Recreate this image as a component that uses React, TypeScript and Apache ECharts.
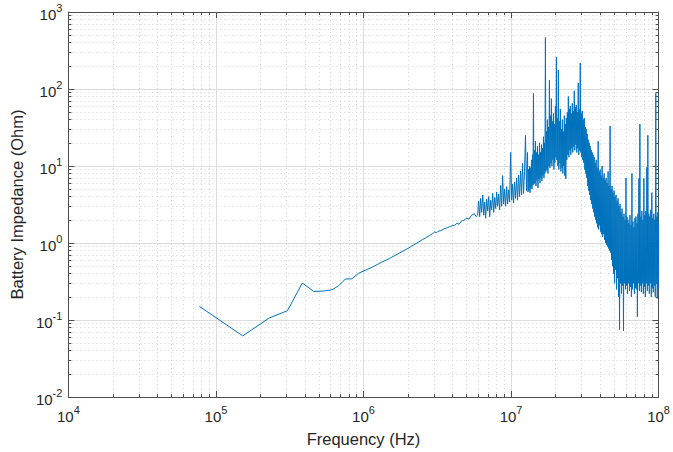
import React, { useEffect, useRef } from "react";
import * as echarts from "echarts";

// Low-frequency, smooth part of the sweep (MHz, Ohm)
const smoothFreqMHz = [0.0774, 0.152, 0.229, 0.305, 0.385, 0.46, 0.538, 0.613, 0.679, 0.753, 0.835, 0.925, 1.14, 1.26, 1.5, 2.0, 2.5, 2.8, 2.95, 3.04, 3.12, 3.2, 3.35, 3.5, 3.7, 3.9, 4.14, 4.3, 4.45, 4.6, 4.8, 5.0, 5.2, 5.4, 5.65, 5.8];
const smoothZ = [0.150, 0.0622, 0.106, 0.132, 0.302, 0.235, 0.238, 0.247, 0.279, 0.340, 0.343, 0.404, 0.483, 0.535, 0.63, 0.85, 1.10, 1.25, 1.33, 1.40, 1.35, 1.42, 1.45, 1.52, 1.58, 1.65, 1.70, 1.80, 1.75, 1.92, 1.98, 2.10, 2.05, 2.30, 2.40, 2.20];

// Noisy part, 6 - 13 MHz (MHz, Ohm)
const midFreqMHz = [5.94, 6.03, 6.13, 6.22, 6.32, 6.43, 6.53, 6.63, 6.73, 6.84, 6.95, 7.06, 7.17, 7.28, 7.39, 7.51, 7.63, 7.75, 7.87, 7.99, 8.11, 8.24, 8.37, 8.50, 8.64, 8.77, 8.91, 9.05, 9.19, 9.34, 9.48, 9.63, 9.78, 9.94, 10.1, 10.24, 10.4, 10.57, 10.73, 10.9, 11.07, 11.25, 11.42, 11.6, 11.78, 11.96, 12.15, 12.34, 12.53, 12.73];
const midZ = [2.3, 3.5, 2.2, 3.8, 2.5, 4.2, 2.3, 3.4, 2.1, 3.7, 2.6, 4.0, 2.2, 3.6, 2.7, 4.4, 2.5, 3.9, 2.8, 4.6, 3.0, 4.3, 2.7, 5.6, 3.0, 7.5, 3.2, 5.0, 3.0, 5.4, 3.2, 4.9, 3.4, 15, 3.6, 5.8, 3.3, 6.2, 3.8, 7.0, 3.6, 7.6, 4.0, 8.6, 4.2, 10.8, 4.4, 8.5, 25, 4.8];

// Resonance band, 13 - 100 MHz (MHz, Ohm)
const highFreqMHz = [12.93, 13.03, 13.13, 13.23, 13.34, 13.44, 13.55, 13.65, 13.76, 13.86, 13.97, 14.08, 14.19, 14.30, 14.41, 14.52, 14.64, 14.75, 14.87, 14.98, 15.1, 15.22, 15.34, 15.46, 15.58, 15.70, 15.82, 15.94, 16.07, 16.19, 16.32, 16.45, 16.58, 16.71, 16.84, 16.97, 17.1, 17.23, 17.37, 17.50, 17.64, 17.78, 17.92, 18.06, 18.2, 18.34, 18.48, 18.62, 18.77, 18.92, 19.07, 19.22, 19.37, 19.52, 19.67, 19.82, 19.98, 20.13, 20.29, 20.44, 20.6, 20.76, 20.93, 21.09, 21.26, 21.42, 21.59, 21.76, 21.93, 22.10, 22.27, 22.44, 22.62, 22.79, 22.97, 23.15, 23.33, 23.51, 23.7, 23.88, 24.07, 24.26, 24.45, 24.64, 24.83, 25.02, 25.22, 25.41, 25.61, 25.81, 26.01, 26.21, 26.42, 26.62, 26.83, 27.04, 27.25, 27.46, 27.68, 27.89, 28.11, 28.33, 28.55, 28.77, 29.0, 29.22, 29.45, 29.68, 29.91, 30.14, 30.38, 30.61, 30.85, 31.09, 31.34, 31.58, 31.83, 32.08, 32.33, 32.58, 32.83, 33.09, 33.35, 33.61, 33.87, 34.13, 34.4, 34.67, 34.94, 35.21, 35.48, 35.76, 36.04, 36.32, 36.6, 36.88, 37.17, 37.46, 37.75, 38.04, 38.34, 38.64, 38.94, 39.24, 39.55, 39.86, 40.17, 40.48, 40.8, 41.11, 41.43, 41.75, 42.08, 42.41, 42.74, 43.07, 43.4, 43.74, 44.08, 44.42, 44.77, 45.12, 45.47, 45.82, 46.18, 46.54, 46.9, 47.26, 47.63, 48.0, 48.38, 48.75, 49.13, 49.51, 49.9, 50.29, 50.68, 51.07, 51.47, 51.87, 52.28, 52.69, 53.1, 53.51, 53.93, 54.35, 54.77, 55.19, 55.62, 56.05, 56.49, 56.93, 57.38, 57.82, 58.27, 58.72, 59.18, 59.64, 60.1, 60.57, 61.04, 61.52, 62.0, 62.48, 62.97, 63.46, 63.95, 64.45, 64.95, 65.45, 65.96, 66.47, 66.99, 67.51, 68.04, 68.57, 69.1, 69.64, 70.18, 70.73, 71.28, 71.83, 72.39, 72.95, 73.52, 74.09, 74.67, 75.25, 75.84, 76.43, 77.02, 77.62, 78.22, 78.83, 79.45, 80.07, 80.69, 81.32, 81.95, 82.59, 83.23, 83.88, 84.53, 85.19, 85.85, 86.52, 87.19, 87.87, 88.55, 89.24, 89.94, 90.64, 91.34, 92.05, 92.77, 93.49, 94.22, 94.95, 95.69, 96.44, 97.19, 97.94, 98.7, 99.35, 100];
const highZ = [
  15, 4.6, 9.0, 4.8, 10, 4.5, 9.5, 5.2, 12, 5.0,
  14, 5.6, 88, 5.8, 16, 6.0, 21, 5.5, 15, 6.5,
  18, 5.2, 14, 6.8, 20, 6.0, 15, 7.0, 19, 6.4,
  17, 7.5, 24, 7.0, 20, 8.0, 467, 8.5, 28, 9.0,
  40, 8.0, 32, 10, 130, 9.5, 45, 11, 75, 10,
  38, 12, 48, 9.0, 35, 11, 60, 13, 260, 12,
  42, 10, 176, 9.0, 38, 11, 55, 8.5, 30, 9.5,
  40, 8.0, 28, 10, 45, 7.5, 35, 6.8, 42, 12,
  50, 14, 80, 13, 55, 16, 60, 14, 48, 17,
  65, 15, 52, 18, 95, 16, 58, 19, 62, 15,
  50, 17, 120, 14, 55, 16, 218, 15, 48, 13,
  52, 12, 40, 11, 42, 9.0, 32, 8.0, 30, 7.0,
  26, 5.5, 22, 4.8, 20, 4.2, 18, 3.6, 16, 3.2,
  15, 2.8, 14, 2.5, 13, 2.2, 11, 2.0, 12, 1.8,
  9.5, 1.6, 21, 1.5, 8.5, 1.7, 9.0, 1.4, 7.5, 1.3,
  10, 1.2, 7.0, 1.3, 8.0, 1.1, 6.5, 1.0, 7.0, 0.95,
  6.0, 0.9, 8.5, 0.85, 5.5, 0.8, 33, 0.75, 5.0, 0.6,
  5.5, 0.5, 4.5, 0.4, 4.8, 0.3, 4.0, 0.45, 4.2, 0.25,
  3.5, 0.35, 3.8, 0.2, 3.0, 0.075, 3.2, 0.3, 2.5, 0.22,
  2.8, 0.28, 2.2, 0.072, 2.4, 0.3, 2.0, 0.25, 7.0, 0.28,
  2.2, 0.22, 2.0, 0.3, 1.8, 0.24, 2.3, 0.27, 1.7, 0.2,
  8.0, 0.25, 1.9, 0.3, 1.6, 0.22, 2.1, 0.26, 2.2, 0.25,
  1.8, 0.11, 2.4, 0.3, 6.9, 0.24, 35, 0.28, 2.2, 0.23,
  2.6, 0.3, 2.0, 0.22, 6.9, 0.27, 2.3, 0.2, 2.6, 0.3,
  9.6, 0.24, 25, 0.28, 2.4, 0.22, 2.2, 0.3, 2.7, 0.2,
  4.5, 0.26, 2.1, 0.23, 2.4, 0.28, 2.0, 0.2, 88, 0.3,
  2.2, 0.19, 2.5, 0.25, 1.8,
];

const xMin = 1e4;
const xMax = 1e8;
const yMin = 1e-2;
const yMax = 1e3;

const FONT = "'Liberation Sans', Arial, Helvetica, sans-serif";
const TEXT = "#262626";
const AXIS = "#4d4d4d";

export default function App() {
  const ref = useRef<HTMLDivElement>(null);

  useEffect(() => {
    document.body.style.margin = "0";
    const chart = echarts.init(ref.current!, null, { renderer: "svg" });

    const data: number[][] = [];
    const add = (fs: number[], zs: number[]) => {
      const n = Math.min(fs.length, zs.length);
      for (let i = 0; i < n; i++) data.push([fs[i] * 1e6, zs[i]]);
    };
    add(smoothFreqMHz, smoothZ);
    add(midFreqMHz, midZ);
    add(highFreqMHz, highZ);

    const fmt = (v: number) => {
      const e = Math.round(Math.log10(v));
      return `{b|10}{s|${e}}`;
    };
    const rich = {
      b: { fontSize: 15, fontFamily: FONT, color: TEXT, lineHeight: 20, verticalAlign: "bottom" },
      s: { fontSize: 11, fontFamily: FONT, color: TEXT, lineHeight: 8, verticalAlign: "top" },
    };

    const axisLine = { show: true, lineStyle: { color: AXIS, width: 1 } };
    const tick = { show: true, inside: true, length: 6, lineStyle: { color: AXIS } };
    const minorTick = { show: true, splitNumber: 9, length: 3, lineStyle: { color: AXIS } };

    chart.setOption({
      animation: false,
      backgroundColor: "#ffffff",
      grid: { left: 68, right: 11, top: 12, bottom: 55 },
      xAxis: [
        {
          type: "log",
          logBase: 10,
          min: xMin,
          max: xMax,
          interval: 1,
          position: "bottom",
          axisLine,
          axisTick: tick,
          minorTick,
          axisLabel: { formatter: fmt, rich, margin: 7 },
          splitLine: { show: true, lineStyle: { color: "#dcdcdc", width: 1 } },
          minorSplitLine: { show: true, lineStyle: { color: "#d4d4d4", width: 1, type: [1, 3] } },
          name: "Frequency (Hz)",
          nameLocation: "middle",
          nameGap: 33,
          nameTextStyle: { fontSize: 16.5, fontFamily: FONT, color: TEXT },
        },
        {
          type: "log",
          logBase: 10,
          min: xMin,
          max: xMax,
          interval: 1,
          position: "top",
          axisLine,
          axisTick: tick,
          minorTick,
          axisLabel: { show: false },
          splitLine: { show: false },
        },
      ],
      yAxis: [
        {
          type: "log",
          logBase: 10,
          min: yMin,
          max: yMax,
          interval: 1,
          position: "left",
          axisLine,
          axisTick: tick,
          minorTick,
          axisLabel: { formatter: fmt, rich, margin: 6 },
          splitLine: { show: true, lineStyle: { color: "#dcdcdc", width: 1 } },
          minorSplitLine: { show: true, lineStyle: { color: "#d4d4d4", width: 1, type: [1, 3] } },
          name: "Battery Impedance (Ohm)",
          nameLocation: "middle",
          nameGap: 40,
          nameTextStyle: { fontSize: 16.5, fontFamily: FONT, color: TEXT },
        },
        {
          type: "log",
          logBase: 10,
          min: yMin,
          max: yMax,
          interval: 1,
          position: "right",
          axisLine,
          axisTick: tick,
          minorTick,
          axisLabel: { show: false },
          splitLine: { show: false },
        },
      ],
      series: [
        {
          type: "line",
          xAxisIndex: 0,
          yAxisIndex: 0,
          data,
          showSymbol: false,
          symbol: "none",
          clip: true,
          lineStyle: { color: "#0072BD", width: 1 },
        },
      ],
    });

    return () => chart.dispose();
  }, []);

  return <div ref={ref} style={{ width: 673, height: 452 }} />;
}
